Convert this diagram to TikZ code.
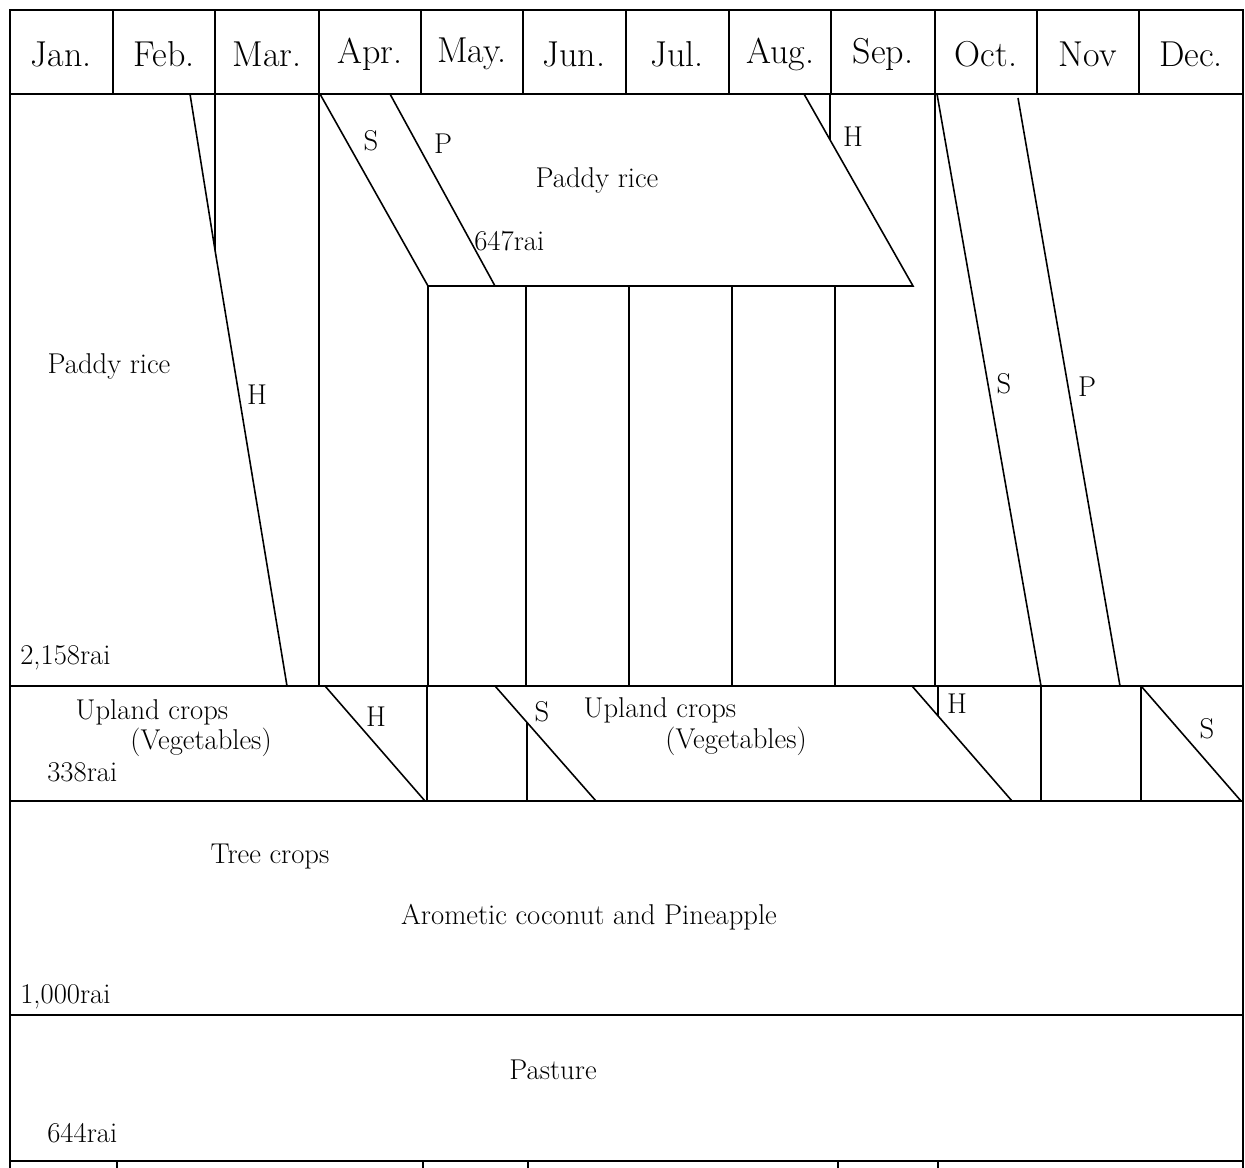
\documentclass[tikz,border=0pt]{standalone}
\begin{document}
\begin{tikzpicture}[x=0.02cm,y=-0.02cm,
  grid/.style={line width=0.9pt,black},
  month/.style={font=\fontsize{20.5}{24}\selectfont,inner sep=0pt},
  lbl/.style={font=\fontsize{16.3}{19}\selectfont,inner sep=0pt},
  lbll/.style={lbl,anchor=west}]
\useasboundingbox (0,0) rectangle (1245,1168);

% outer frame and row separators
\draw[grid] (10,1168) -- (10,10) -- (1243,10) -- (1243,1168);
\foreach \y in {94,686,801,1015,1161} \draw[grid] (10,\y) -- (1243,\y);

% month header
\foreach \x in {113,215,319,421,523,626,729,831,935,1037,1139}
  \draw[grid] (\x,10) -- (\x,94);
\foreach \m/\x [count=\i] in {Jan./61,Feb./164,Mar./267,Apr./370,May./472,Jun./574,Jul./677,Aug./780,Sep./883,Oct./986,Nov/1088,Dec./1191}
  \node[month] (m\i) at (\x,54) {\m};

% paddy rice: dry-season block
\draw[grid] (190,94) -- (215,250) -- (287,686);
\draw[grid] (215,94) -- (215,250);
\draw[grid] (319,94) -- (319,686);
\node[lbl] (pr1) at (109,366) {Paddy rice};
\node[lbl] (h1) at (257,395) {H};
\node[lbll] (a1) at (20,658) {2,158rai};

% paddy rice: wet-season block
\draw[grid] (320,94) -- (428,286) -- (913,286) -- (804,94);
\draw[grid] (390,94) -- (495,286);
\draw[grid] (830,94) -- (830,140);
\foreach \x in {428,526,629,732,835} \draw[grid] (\x,286) -- (\x,686);
\node[lbl] (s1) at (371,141) {S};
\node[lbl] (p1) at (443,144) {P};
\node[lbl] (pr2) at (597,180) {Paddy rice};
\node[lbll] (a2) at (474,241) {647rai};
\node[lbl] (h2) at (853,137) {H};

% paddy rice: late sowing
\draw[grid] (935,94) -- (935,686);
\draw[grid] (937,94) -- (1041,686);
\draw[grid] (1018,98) -- (1120,686);
\node[lbl] (s2) at (1004,384) {S};
\node[lbl] (p2) at (1087,387) {P};

% upland crops
\draw[grid] (325,686) -- (425,801);
\draw[grid] (427,686) -- (427,801);
\draw[grid] (495,686) -- (596,801);
\draw[grid] (527,722) -- (527,801);
\draw[grid] (912,686) -- (1012,801);
\draw[grid] (938,686) -- (938,716);
\draw[grid] (1041,686) -- (1041,801);
\draw[grid] (1141,686) -- (1141,801);
\draw[grid] (1141,686) -- (1241,801);
\node[lbl] (u1) at (152,712) {Upland crops};
\node[lbl] (v1) at (201,742) {(Vegetables)};
\node[lbll] (a3) at (47,772) {338rai};
\node[lbl] (h3) at (376,717) {H};
\node[lbl] (s3) at (542,712) {S};
\node[lbl] (u2) at (660,710) {Upland crops};
\node[lbl] (v2) at (736,741) {(Vegetables)};
\node[lbl] (h4) at (957,704) {H};
\node[lbl] (s4) at (1207,729) {S};

% tree crops
\node[lbl] (t1) at (270,857) {Tree crops};
\node[lbl] (t2) at (589,917) {Arometic coconut and Pineapple};
\node[lbll] (a4) at (20,997) {1,000rai};

% pasture
\node[lbl] (ps) at (553,1070) {Pasture};
\node[lbll] (a5) at (47,1133) {644rai};

% start of the next row
\foreach \x in {117,423,528,838,938} \draw[grid] (\x,1161) -- (\x,1168);
\end{tikzpicture}
\end{document}
